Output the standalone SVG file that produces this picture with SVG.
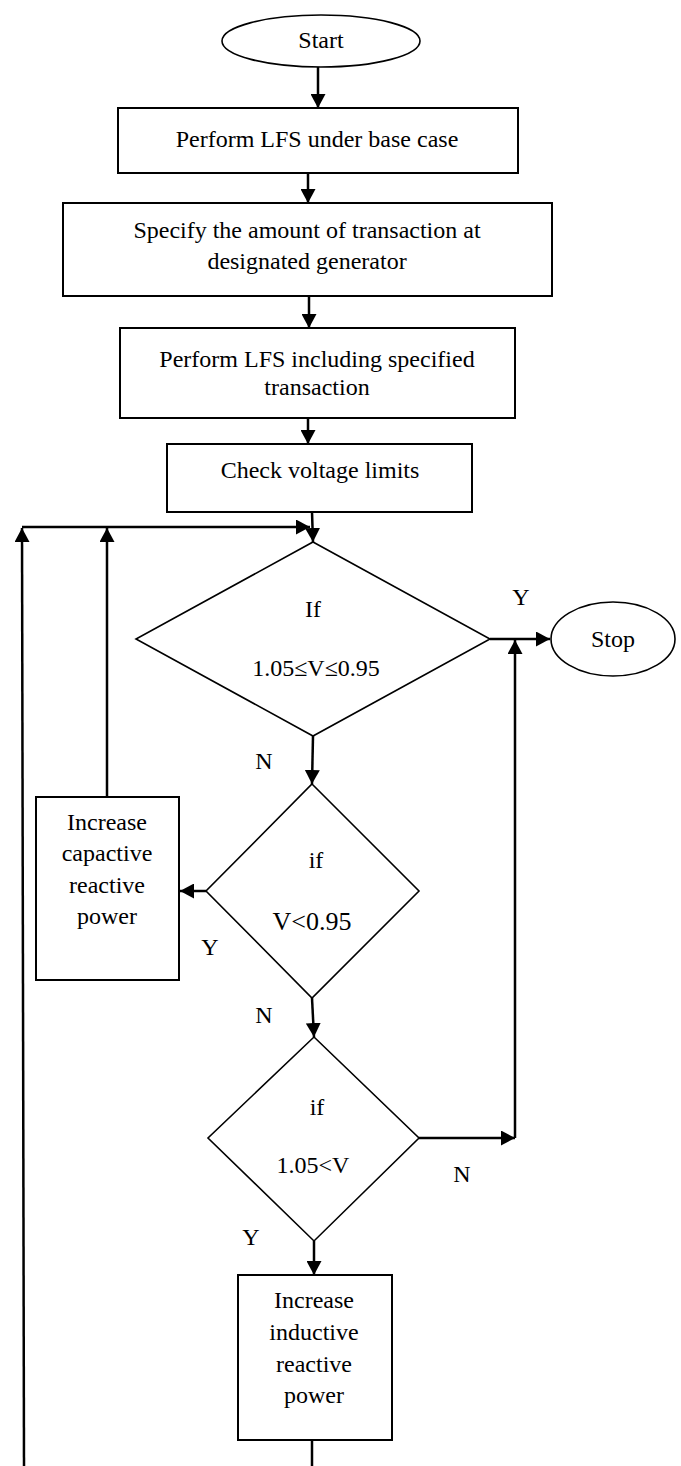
<svg xmlns="http://www.w3.org/2000/svg" width="681" height="1466" viewBox="0 0 681 1466">
<style>
text{font-family:"Liberation Serif","Times New Roman",serif;font-size:24px;fill:#000;text-anchor:middle}
.box{fill:#fff;stroke:#000;stroke-width:2}
.dia{fill:#fff;stroke:#000;stroke-width:1.6}
.ell{fill:#fff;stroke:#000;stroke-width:1.6}
.c{fill:none;stroke:#000;stroke-width:2.5}
.big{font-size:26px}
</style>
<defs>
<marker id="ah" markerWidth="15" markerHeight="15" refX="14" refY="7.5" orient="auto" markerUnits="userSpaceOnUse">
<path d="M0,0 L14,7.5 L0,15 z" fill="#000"/>
</marker>
</defs>
<rect width="681" height="1466" fill="#fff"/>
<g id="connectors">
<line class="c" x1="318" y1="67" x2="318" y2="108" marker-end="url(#ah)"/>
<line class="c" x1="308" y1="173" x2="308" y2="203" marker-end="url(#ah)"/>
<line class="c" x1="309" y1="296" x2="309" y2="328" marker-end="url(#ah)"/>
<line class="c" x1="308" y1="418" x2="308" y2="444" marker-end="url(#ah)"/>
<line class="c" x1="312" y1="512" x2="313" y2="542" marker-end="url(#ah)"/>
<line class="c" x1="22" y1="527" x2="310" y2="527" marker-end="url(#ah)"/>
<line class="c" x1="24" y1="1466" x2="22" y2="528" marker-end="url(#ah)"/>
<line class="c" x1="107" y1="797" x2="107" y2="528" marker-end="url(#ah)"/>
<line class="c" x1="490" y1="639" x2="550" y2="639" marker-end="url(#ah)"/>
<line class="c" x1="515" y1="1138" x2="515" y2="640" marker-end="url(#ah)"/>
<line class="c" x1="313" y1="736" x2="312" y2="784" marker-end="url(#ah)"/>
<line class="c" x1="206" y1="891" x2="180" y2="891" marker-end="url(#ah)"/>
<line class="c" x1="312" y1="998" x2="314" y2="1037" marker-end="url(#ah)"/>
<line class="c" x1="419" y1="1138" x2="515" y2="1138" marker-end="url(#ah)"/>
<line class="c" x1="314" y1="1241" x2="314" y2="1275" marker-end="url(#ah)"/>
<line class="c" x1="312" y1="1440" x2="312" y2="1466"/>
</g>
<g id="start">
<ellipse class="ell" cx="321" cy="41" rx="99" ry="26"/>
<text x="321" y="48">Start</text>
</g>
<g id="lfs-base">
<rect class="box" x="118" y="108" width="400" height="65"/>
<text x="317" y="147">Perform LFS under base case</text>
</g>
<g id="specify">
<rect class="box" x="63" y="203" width="489" height="93"/>
<text x="307" y="238">Specify the amount of transaction at</text>
<text x="307" y="269">designated generator</text>
</g>
<g id="lfs-trans">
<rect class="box" x="120" y="328" width="395" height="90"/>
<text x="317" y="367">Perform LFS including specified</text>
<text x="317" y="395">transaction</text>
</g>
<g id="check">
<rect class="box" x="167" y="444" width="305" height="68"/>
<text x="320" y="478">Check voltage limits</text>
</g>
<g id="dec1">
<polygon class="dia" points="313,542 490,639 313,736 136,639"/>
<text x="313" y="617">If</text>
<text x="316" y="676">1.05≤V≤0.95</text>
</g>
<g id="stop">
<ellipse class="ell" cx="613" cy="639" rx="62" ry="37"/>
<text x="613" y="647">Stop</text>
</g>
<g id="dec2">
<polygon class="dia" points="312,784 419,891 312,998 206,891"/>
<text x="316" y="868">if</text>
<text class="big" x="312" y="930">V&lt;0.95</text>
</g>
<g id="capacitive">
<rect class="box" x="36" y="797" width="143" height="183"/>
<text x="107" y="830">Increase</text>
<text x="107" y="861">capactive</text>
<text x="107" y="893">reactive</text>
<text x="107" y="924">power</text>
</g>
<g id="dec3">
<polygon class="dia" points="314,1037 419,1138 314,1241 208,1138"/>
<text x="317" y="1115">if</text>
<text x="313" y="1173">1.05&lt;V</text>
</g>
<g id="inductive">
<rect class="box" x="238" y="1275" width="154" height="165"/>
<text x="314" y="1308">Increase</text>
<text x="314" y="1340">inductive</text>
<text x="314" y="1372">reactive</text>
<text x="314" y="1403">power</text>
</g>
<g id="labels">
<text x="521" y="605">Y</text>
<text x="264" y="769">N</text>
<text x="210" y="955">Y</text>
<text x="264" y="1023">N</text>
<text x="462" y="1182">N</text>
<text x="251" y="1245">Y</text>
</g>
</svg>
